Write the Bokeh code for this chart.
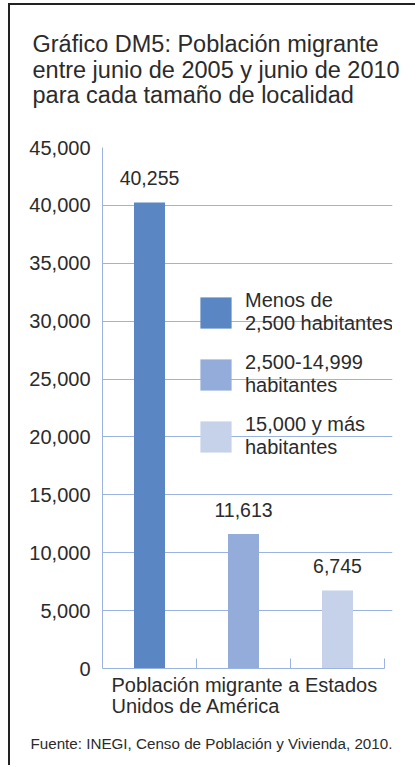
from bokeh.plotting import figure
from bokeh.models import Range1d, Title, Legend, LegendItem, FixedTicker, NumeralTickFormatter
from bokeh.embed import file_html
from bokeh.resources import INLINE
from bokeh.core.properties import value

# ---------------- data ----------------
title_lines = [
    "Gráfico DM5: Población migrante",
    "entre junio de 2005 y junio de 2010",
    "para cada tamaño de localidad",
]
categories = ["Menos de\n2,500 habitantes", "2,500-14,999\nhabitantes", "15,000 y más\nhabitantes"]
values = [40255, 11613, 6745]
value_labels = ["40,255", "11,613", "6,745"]
colors = ["#5b86c4", "#93acd9", "#c6d2ea"]
y_ticks = [0, 5000, 10000, 15000, 20000, 25000, 30000, 35000, 40000, 45000]
x_label_lines = ["Población migrante a Estados", "Unidos de América"]
source_note = "Fuente: INEGI, Censo de Población y Vivienda, 2010."

FONT = "Liberation Sans"
TXT = "#2b2b2b"
GRID = "#9bb3e0"

W, H = 407, 762
FRAME_W_CAT = 282   # pixels spanned by the three categories
FRAME_W = 290       # frame width (room for the legend text)
p = figure(width=W, height=H, output_backend="svg", toolbar_location=None,
           x_range=Range1d(0, len(categories) * FRAME_W / FRAME_W_CAT),
           y_range=Range1d(0, max(y_ticks)),
           min_border_left=92, min_border_right=W - 92 - FRAME_W,
           min_border_top=142, min_border_bottom=99,
           styles={"margin-left": "8px", "margin-top": "3px",
                   "border-top": "2px solid #222", "border-left": "2px solid #222"})
p.title = None
p.outline_line_color = None
p.background_fill_color = "white"
p.border_fill_color = "white"

xs = [i + 0.5 for i in range(len(categories))]
r = p.vbar(x=xs, top=values, width=0.33, fill_color=colors, line_color=None)

p.text(x=xs, y=values, text=value_labels, text_align="center", text_baseline="alphabetic",
       y_offset=-24, text_font=value(FONT), text_font_size="19.5px", text_color=TXT)

# axes
p.yaxis.ticker = FixedTicker(ticks=y_ticks)
p.yaxis.formatter = NumeralTickFormatter(format="0,0")
p.yaxis.major_tick_in = 0
p.yaxis.major_tick_out = 0
p.yaxis.minor_tick_in = 0
p.yaxis.minor_tick_out = 0
p.yaxis.axis_line_color = GRID
p.yaxis.major_label_text_font = FONT
p.yaxis.major_label_text_font_size = "20px"
p.yaxis.major_label_text_color = TXT
p.yaxis.major_label_standoff = 12

p.xaxis.ticker = FixedTicker(ticks=list(range(1, len(categories) + 1)))
p.xaxis.bounds = (0, len(categories))
p.xaxis.major_tick_in = 10
p.xaxis.major_tick_out = 0
p.xaxis.major_tick_line_color = GRID
p.xaxis.minor_tick_line_color = None
p.xaxis.axis_line_color = GRID
p.xaxis.major_label_text_alpha = 0
p.xaxis.major_label_text_font_size = "1px"
p.xaxis.major_label_standoff = 0

p.ygrid.ticker = FixedTicker(ticks=y_ticks)
p.ygrid.grid_line_color = GRID
p.xgrid.visible = False

# legend (Bokeh insets area glyphs by 10% on each side, so 39px -> 31px swatch)
items = [LegendItem(label=c, renderers=[r], index=i) for i, c in enumerate(categories)]
leg = Legend(items=items, location=(94, 209), glyph_width=39, glyph_height=39,
             label_standoff=10, spacing=16, padding=0, margin=0,
             label_text_font=FONT, label_text_font_size="20px", label_text_color=TXT,
             label_text_line_height=0.9,
             background_fill_alpha=0, border_line_color=None)
p.add_layout(leg, "center")

# gap between frame and title, then the title (above the frame)
p.add_layout(Title(text=" ", standoff=36, text_font_size="1px"), "above")
p.add_layout(Title(text="\n".join(title_lines), align="left", offset=-70, standoff=0,
                   text_font=FONT, text_font_size="23.5px", text_color=TXT,
                   text_font_style="normal", text_line_height=0.99), "above")

# category axis text and source note (below the frame)
p.add_layout(Title(text="\n".join(x_label_lines), align="left", offset=9, standoff=7,
                   text_font=FONT, text_font_size="20px", text_color=TXT,
                   text_font_style="normal", text_line_height=0.94), "below")
p.add_layout(Title(text=source_note, align="left", offset=-72, standoff=25,
                   text_font=FONT, text_font_size="15.2px", text_color=TXT,
                   text_font_style="normal"), "below")

open("out.html", "w").write(file_html(p, INLINE))
